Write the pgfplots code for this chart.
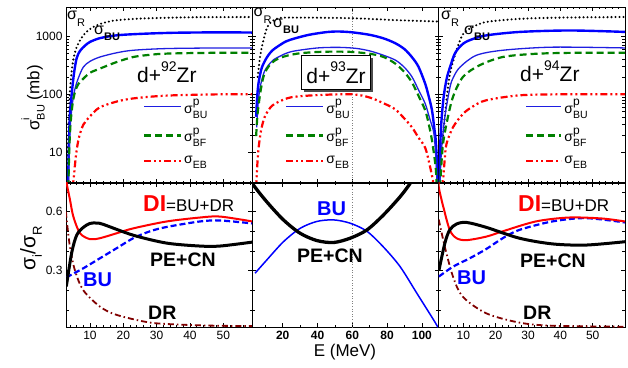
\documentclass[border=0pt]{standalone}
\usepackage{fontspec}
\setmainfont{Liberation Sans}
\usepackage{pgfplots}
\pgfplotsset{compat=1.18}
\usetikzlibrary{shadows}
\definecolor{dkgreen}{RGB}{0,128,0}
\definecolor{dkred}{RGB}{128,0,0}
\definecolor{tblue}{RGB}{30,30,225}
\newcommand{\fs}[1]{\fontsize{#1}{#1}\selectfont}
\newcommand{\sig}[2]{\fs{14}σ\makebox[0pt][l]{\raisebox{0.55em}{\fs{12}#1}}\raisebox{-0.35em}{\fs{10.5}#2}}
\pgfplotsset{
  every axis/.append style={scale only axis, width=186.3pt, anchor=south west,
    tick align=inside, major tick length=4pt, minor tick length=2.5pt,
    tick style={black, line width=0.6pt}, axis line style={line width=0.8pt},
    ticklabel style={font=\fs{12}}, /pgf/number format/assume math mode=true,
    legend style={draw=none, fill=none, anchor=north west, font=\fs{14}, row sep=9pt,
      legend cell align=left, inner sep=0pt},
    legend image code/.code={\draw[#1] (0pt,0pt) -- (37pt,0pt);}},
  toppanel/.style={height=176pt, ymin=2.96, ymax=3200, ytick={10,100,1000}, yticklabels={}, xticklabels={}},
  botpanel/.style={height=144.6pt, ymin=0.012, ymax=0.747, ytick={0.3,0.6}, minor ytick={0.1,0.2,0.4,0.5,0.7}, yticklabels={}},
}
\tikzset{
  sR/.style={black, line width=2.3pt, dash pattern=on 0pt off 4pt, line cap=round},
  sBU/.style={blue, line width=2.4pt},
  sBUp/.style={tblue, line width=1.3pt},
  sBF/.style={dkgreen, line width=2.2pt, dash pattern=on 7pt off 4pt},
  sEB/.style={red, line width=2.2pt, dash pattern=on 7pt off 3pt on 2pt off 3pt on 2pt off 3pt},
  cDI/.style={red, line width=2pt},
  cPE/.style={black, line width=3pt},
  cBU/.style={blue, line width=2.2pt, dash pattern=on 6pt off 3pt},
  cDR/.style={dkred, line width=1.8pt, dash pattern=on 6pt off 3pt on 1.5pt off 3pt},
}
\begin{document}
\begin{tikzpicture}
\useasboundingbox (0,0) rectangle (628pt,367pt);
% ---------------- left top
\begin{semilogyaxis}[toppanel, at={(66pt,184pt)}, xmin=2.8, xmax=58.7, xtick={10,20,...,50}, minor xtick={4,6,...,58},
  yticklabels={10,100,1000}, legend style={at={(0.412,0.49)}}]
\addplot[sR, smooth, forget plot] coordinates {(3.0,2.5)(3.4,15)(3.7,50)(4.0,117)(4.6,280)(5.2,450)(6,650)(7.5,950)(9,1200)(11,1450)(14,1700)(18,1890)(25,2020)(35,2100)(45,2140)(58.7,2150)};
\addplot[sBU, smooth, forget plot] coordinates {(3.4,2.5)(3.7,15)(4.0,45)(4.5,100)(5.2,230)(6,420)(7,560)(8.5,690)(10,800)(13,930)(18,1040)(25,1100)(35,1150)(49,1170)(58.7,1160)};
\addplot[sBUp, smooth] coordinates {(3.5,2.5)(3.8,12)(4.2,35)(4.8,75)(5.5,125)(6.5,190)(8,295)(10,370)(13,440)(18,520)(23,575)(33,615)(49,630)(58.7,630)};
\addplot[sBF, smooth] coordinates {(3.5,2.5)(3.8,12)(4.2,33)(4.8,70)(5.5,110)(6.5,150)(8,186)(10,235)(13,278)(18,360)(23,440)(28,480)(33,503)(45,518)(58.7,520)};
\addplot[sEB, smooth] coordinates {(4.8,2.5)(5.2,4)(5.7,8)(6.3,14)(7,21)(8,30)(9,36)(11,48)(13,60)(18,75)(23,85)(33,95)(49,100)(58.7,100)};
\legend{\sig{p}{BU},\sig{p}{BF},\sig{}{EB}}
\end{semilogyaxis}
% ---------------- middle top
\begin{semilogyaxis}[toppanel, at={(252.3pt,184pt)}, xmin=2.5, xmax=109.6, xtick={20,40,...,100}, minor xtick={10,30,50,70,90},
  legend style={at={(0.176,0.49)}}]
\addplot[gray, dotted, line width=0.6pt, forget plot] coordinates {(60,2.96)(60,3200)};
\addplot[sR, smooth, forget plot] coordinates {(5.6,200)(7,450)(8.9,855)(11.7,1550)(17.5,2050)(30,2100)(60,2050)(85,1900)(109.6,1800)};
\addplot[sBU, smooth, forget plot] coordinates {(4.7,41)(5.3,90)(6,150)(7,220)(8,290)(10,390)(11.7,470)(14,570)(17.5,680)(22,820)(27,920)(35,1060)(45,1180)(52,1210)(60,1170)(70,1060)(78,920)(84.7,760)(90,600)(94.3,436)(98,300)(101.9,152)(104,90)(105.8,53)(107.2,25)(108.1,14)(109.2,2.5)};
\addplot[sBUp, smooth] coordinates {(5,27)(6,80)(7,130)(7.9,174)(9.5,250)(11.7,316)(14.5,390)(17.5,440)(22,510)(27,560)(40,630)(52,645)(62,620)(70,560)(78,470)(85,385)(90,290)(94.3,200)(98,120)(101.9,69)(104.5,38)(106.9,21)(108.1,7.3)(108.8,2.5)};
\addplot[sBF, smooth] coordinates {(4.7,19)(5.5,45)(7,102)(8.5,180)(9.9,242)(12.5,320)(15.6,385)(19,430)(23.3,470)(30,510)(40,537)(50,545)(60,537)(70,500)(78,440)(84.7,338)(90,240)(94.3,160)(98,95)(101.9,53)(104,30)(105.8,16)(107.9,5.6)(108.5,2.5)};
\addplot[sEB, smooth] coordinates {(4.7,2.5)(5.2,5)(6,11)(7,19)(7.9,27)(9.5,40)(11.7,53)(14,64)(17.5,74)(25,89)(40,97)(60,100)(70,88)(78,70)(84.7,55)(90,38)(94.3,27)(98,18)(101.9,12)(104.5,6)(106.3,3.3)(106.7,2.5)};
\legend{\sig{p}{BU},\sig{p}{BF},\sig{}{EB}}
\end{semilogyaxis}
% ---------------- right top
\begin{semilogyaxis}[toppanel, at={(438.6pt,184pt)}, xmin=2.36, xmax=59.95, xtick={10,20,...,50}, minor xtick={4,6,...,58},
  legend style={at={(0.464,0.49)}}, legend image code/.code={\draw[#1] (0pt,0pt) -- (35pt,0pt);}]
\addplot[sR, smooth, forget plot] coordinates {(2.4,2.5)(3.0,8)(3.8,21)(4.8,80)(5.9,230)(7.9,575)(10,1110)(13,1450)(17.2,1770)(27.5,2000)(40,2100)(59.95,2150)};
\addplot[sBU, smooth, forget plot] coordinates {(2.55,2.5)(3.0,21)(3.8,79)(4.8,180)(5.9,295)(7.5,520)(10,750)(13,900)(17.2,1040)(27.5,1190)(43,1260)(59.95,1190)};
\addplot[sBUp, smooth] coordinates {(2.7,2.5)(3.3,12)(4.3,41)(5.9,134)(7,200)(9,295)(14,470)(22.2,575)(37.5,650)(59.95,630)};
\addplot[sBF, smooth] coordinates {(2.8,2.5)(3.6,12)(4.8,31)(6.8,90)(9.9,200)(15,316)(22.2,440)(32.4,500)(45,520)(59.95,520)};
\addplot[sEB, smooth] coordinates {(3.6,2.5)(4.2,7)(4.8,14)(6.8,27)(9.9,46)(13,62)(17.1,79)(27.3,96)(40,100)(59.95,100)};
\legend{\sig{p}{BU},\sig{p}{BF},\sig{}{EB}}
\end{semilogyaxis}
% ---------------- left bottom
\begin{axis}[botpanel, at={(66pt,39.7pt)}, xmin=2.8, xmax=58.7, xtick={10,20,...,50}, minor xtick={4,6,...,58},
  yticklabels={0.3,0.6}]
\addplot[cDR, smooth] coordinates {(2.8,0.6)(3,0.558)(4,0.42)(5.5,0.30)(8,0.2)(13,0.117)(18,0.075)(28,0.036)(38,0.025)(48,0.02)(58.7,0.018)};
\addplot[cBU, smooth] coordinates {(2.9,0.265)(5,0.285)(8,0.312)(13,0.363)(18,0.414)(23,0.465)(28,0.5)(33,0.522)(43,0.55)(49,0.555)(58.7,0.54)};
\addplot[cDI, smooth] coordinates {(2.8,0.78)(3,0.744)(4,0.66)(5,0.575)(7,0.49)(10,0.46)(13,0.465)(18,0.49)(23,0.515)(33,0.55)(43,0.57)(49,0.575)(58.7,0.55)};
\addplot[cPE, smooth] coordinates {(2.9,0.22)(4.5,0.39)(6,0.48)(8,0.52)(10,0.54)(12,0.542)(14,0.535)(23,0.48)(33,0.44)(43,0.425)(49,0.425)(58.7,0.445)};
\end{axis}
% ---------------- middle bottom
\begin{axis}[botpanel, at={(252.3pt,39.7pt)}, xmin=2.5, xmax=109.6, xtick={20,40,...,100}, minor xtick={10,30,50,70,90},
  xticklabel style={font=\fs{12}\bfseries}]
\addplot[gray, dotted, line width=0.6pt, forget plot] coordinates {(60,0.012)(60,0.747)};
\addplot[blue, line width=1.5pt, smooth] coordinates {(4.1,0.287)(10.8,0.354)(20.4,0.447)(30,0.515)(39.6,0.55)(49.2,0.558)(58.8,0.541)(68.4,0.5)(77.9,0.42)(87.5,0.32)(97.1,0.185)(106.7,0.05)(109.2,0.012)};
\addplot[cPE, line width=3.3pt, smooth] coordinates {(2.6,0.76)(3.1,0.736)(10.8,0.65)(20.4,0.558)(30,0.49)(39.6,0.453)(49.2,0.443)(58.8,0.465)(68.4,0.507)(77.9,0.583)(87.5,0.676)(93.3,0.744)(94,0.76)};
\end{axis}
% ---------------- right bottom
\begin{axis}[botpanel, at={(438.6pt,39.7pt)}, xmin=2.36, xmax=59.95, xtick={10,20,...,50}, minor xtick={4,6,...,58}]
\addplot[cDR, smooth] coordinates {(2.4,0.56)(4.3,0.42)(6.8,0.27)(9.8,0.168)(17.1,0.083)(27.3,0.036)(37.5,0.02)(59.95,0.015)};
\addplot[cBU, smooth] coordinates {(2.45,0.27)(6.8,0.32)(12,0.363)(17.1,0.41)(22.2,0.465)(27.3,0.507)(37.5,0.55)(47.8,0.567)(59.95,0.545)};
\addplot[cDI, smooth] coordinates {(2.36,0.76)(2.45,0.72)(3.8,0.625)(5.8,0.507)(7.9,0.465)(11,0.455)(17.1,0.473)(22.2,0.5)(32.4,0.55)(42.6,0.57)(52.9,0.565)(59.95,0.55)};
\addplot[cPE, smooth] coordinates {(2.45,0.30)(4.3,0.44)(5.8,0.507)(7.9,0.537)(11,0.545)(17.1,0.52)(27.3,0.465)(37.5,0.436)(47.8,0.43)(59.95,0.447)};
\end{axis}
% ---------------- texts
\node[anchor=base west, inner sep=0pt, font=\fs{21}] at (137pt,284pt) {d+\raisebox{0.55em}{\fs{14}92}Zr};
\node[anchor=center, draw, line width=0.8pt, fill=white, inner xsep=5pt, inner ysep=6pt, font=\fs{21},
  drop shadow={shadow xshift=2.5pt, shadow yshift=-2.5pt, fill=black!70, opacity=1}] at (336pt,294.5pt) {d+\raisebox{0.55em}{\fs{14}93}Zr};
\node[anchor=base west, inner sep=0pt, font=\fs{21}] at (520pt,285.3pt) {d+\raisebox{0.55em}{\fs{14}94}Zr};
\foreach \xa/\ya/\xb/\yb in {67/347/94/332, 253.5/350/273/339, 441/347/464/332}{
  \node[anchor=base west, inner sep=0pt, font=\fs{16}] at (\xa pt,\ya pt) {σ\raisebox{-0.4em}{\fs{11}R}};
  \node[anchor=base west, inner sep=0pt, font=\fs{16}] at (\xb pt,\yb pt) {σ\raisebox{-0.35em}{\fs{11}\bfseries BU}};
}
% bottom labels
\node[anchor=base west, inner sep=0pt] at (143pt,155.3pt) {\fs{23}\bfseries\color{red}DI\fs{17}\mdseries\color{black}=BU+DR};
\node[anchor=base west, inner sep=0pt] at (518pt,155.3pt) {\fs{23}\bfseries\color{red}DI\fs{17}\mdseries\color{black}=BU+DR};
\node[anchor=base west, inner sep=0pt, font=\fs{19.5}\bfseries] at (150pt,100.3pt) {PE+CN};
\node[anchor=base west, inner sep=0pt, font=\fs{19.5}\bfseries] at (520pt,99.7pt) {PE+CN};
\node[anchor=base west, inner sep=0pt, font=\fs{19.5}\bfseries] at (297pt,104.3pt) {PE+CN};
\node[anchor=base west, inner sep=0pt, font=\fs{20}\bfseries, text=blue] at (83pt,81pt) {BU};
\node[anchor=base west, inner sep=0pt, font=\fs{20}\bfseries, text=blue] at (457pt,82.7pt) {BU};
\node[anchor=base west, inner sep=0pt, font=\fs{20}\bfseries, text=blue] at (317pt,152pt) {BU};
\node[anchor=base west, inner sep=0pt, font=\fs{19.5}\bfseries] at (148pt,47.7pt) {DR};
\node[anchor=base west, inner sep=0pt, font=\fs{19.5}\bfseries] at (523pt,47.7pt) {DR};
% axis labels
\node[rotate=90, font=\fs{17}] at (33pt,269pt) {σ\makebox[0pt][l]{\raisebox{0.6em}{\fs{11}i}}\raisebox{-0.3em}{\fs{11}BU} (mb)};
\node[rotate=90] at (31pt,119pt) {\fs{21}σ\raisebox{-0.3em}{\fs{13}i}/σ\raisebox{-0.3em}{\fs{13}R}};
\node[anchor=base, inner sep=0pt, font=\fs{17}] at (345pt,10.5pt) {E (MeV)};
\end{tikzpicture}
\end{document}
